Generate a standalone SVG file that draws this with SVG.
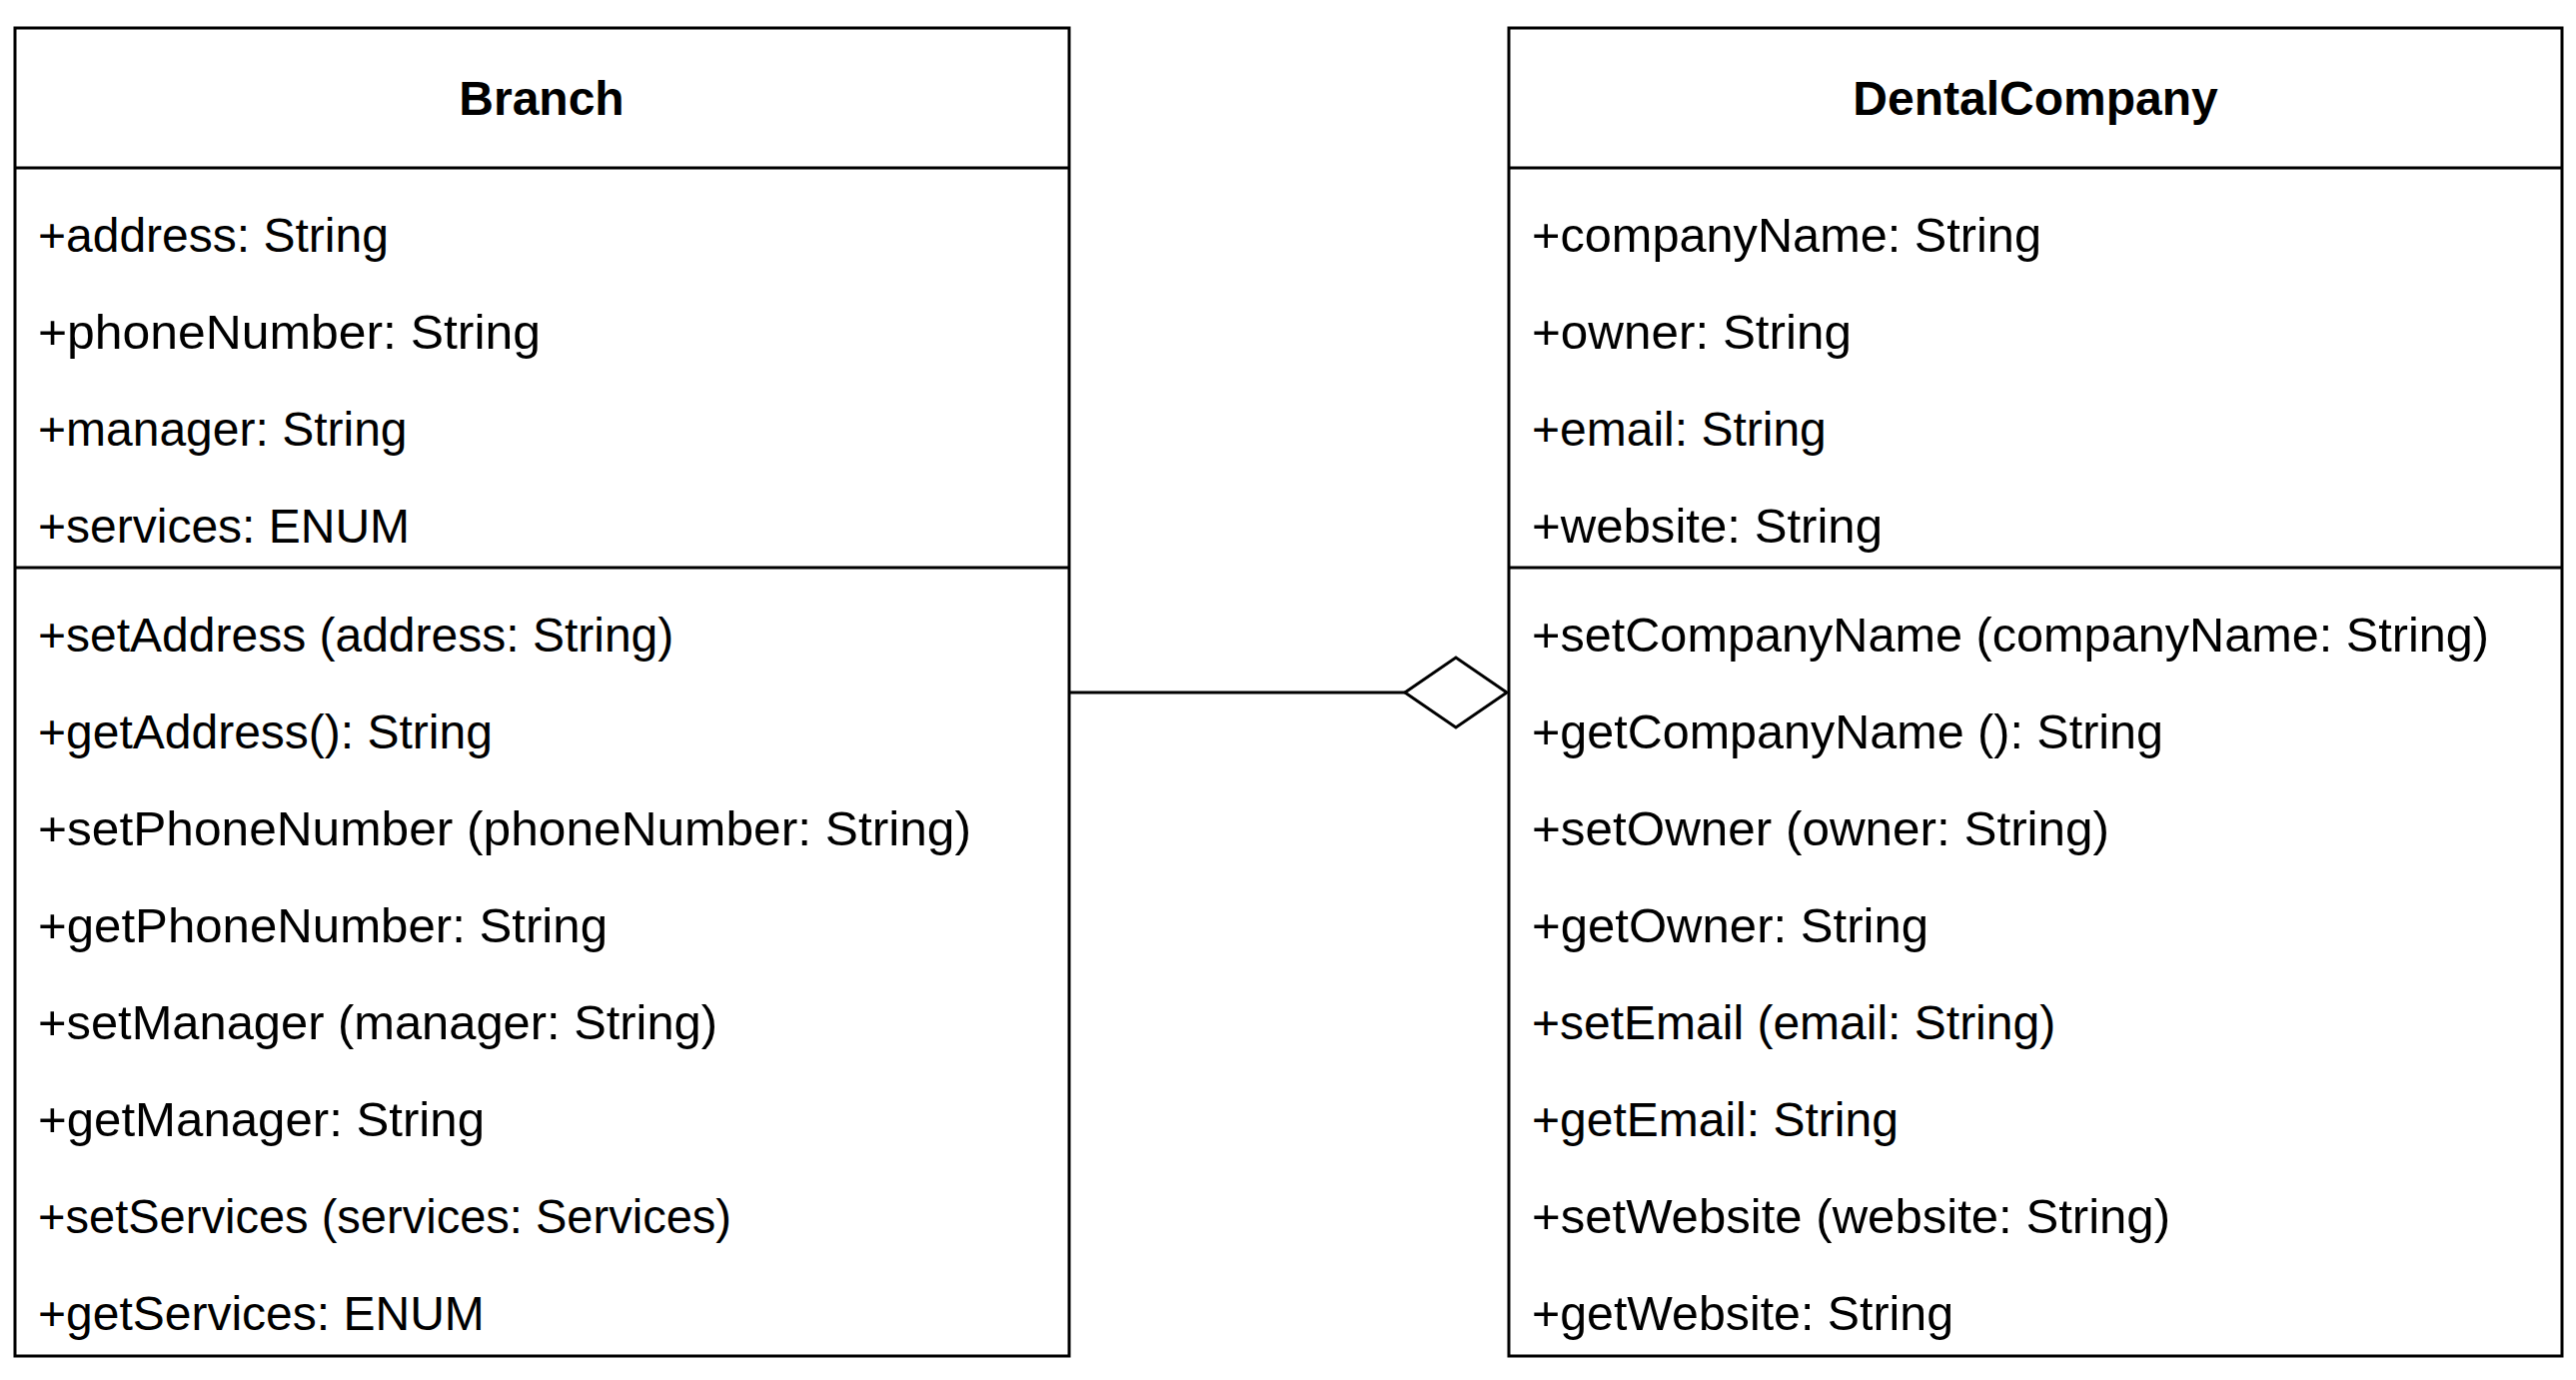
<svg xmlns="http://www.w3.org/2000/svg" width="2578" height="1381" viewBox="0 0 2578 1381">
<style>
.box{fill:#fff;stroke:#000;stroke-width:3}
.sep{stroke:#000;stroke-width:3}
.t{font-family:"Liberation Sans",Arial,sans-serif;font-size:48px;fill:#000}
.title{font-family:"Liberation Sans",Arial,sans-serif;font-size:48px;font-weight:bold;fill:#000;text-anchor:middle}
.conn{stroke:#000;stroke-width:3;fill:none}
.dia{fill:#fff;stroke:#000;stroke-width:3}
</style>
<rect width="2578" height="1381" fill="#fff"/>
<g id="Branch">
<rect class="box" x="15" y="28" width="1055" height="1329"/>
<line class="sep" x1="15" y1="168" x2="1070" y2="168"/>
<line class="sep" x1="15" y1="568" x2="1070" y2="568"/>
<text class="title" x="542" y="115">Branch</text>
<text class="t" x="38" y="252">+address: String</text>
<text class="t" x="38" y="349" textLength="503" lengthAdjust="spacingAndGlyphs">+phoneNumber: String</text>
<text class="t" x="38" y="446">+manager: String</text>
<text class="t" x="38" y="543">+services: ENUM</text>
<text class="t" x="38" y="652">+setAddress (address: String)</text>
<text class="t" x="38" y="749">+getAddress(): String</text>
<text class="t" x="38" y="846" textLength="934" lengthAdjust="spacingAndGlyphs">+setPhoneNumber (phoneNumber: String)</text>
<text class="t" x="38" y="943" textLength="570" lengthAdjust="spacingAndGlyphs">+getPhoneNumber: String</text>
<text class="t" x="38" y="1040" textLength="680" lengthAdjust="spacingAndGlyphs">+setManager (manager: String)</text>
<text class="t" x="38" y="1137" textLength="447" lengthAdjust="spacingAndGlyphs">+getManager: String</text>
<text class="t" x="38" y="1234" textLength="694" lengthAdjust="spacingAndGlyphs">+setServices (services: Services)</text>
<text class="t" x="38" y="1331">+getServices: ENUM</text>
</g>
<g id="DentalCompany">
<rect class="box" x="1510" y="28" width="1054" height="1329"/>
<line class="sep" x1="1510" y1="168" x2="2564" y2="168"/>
<line class="sep" x1="1510" y1="568" x2="2564" y2="568"/>
<text class="title" x="2037" y="115">DentalCompany</text>
<text class="t" x="1533" y="252" textLength="510" lengthAdjust="spacingAndGlyphs">+companyName: String</text>
<text class="t" x="1533" y="349" textLength="320" lengthAdjust="spacingAndGlyphs">+owner: String</text>
<text class="t" x="1533" y="446">+email: String</text>
<text class="t" x="1533" y="543" textLength="351" lengthAdjust="spacingAndGlyphs">+website: String</text>
<text class="t" x="1533" y="652" textLength="958" lengthAdjust="spacingAndGlyphs">+setCompanyName (companyName: String)</text>
<text class="t" x="1533" y="749" textLength="632" lengthAdjust="spacingAndGlyphs">+getCompanyName (): String</text>
<text class="t" x="1533" y="846" textLength="578" lengthAdjust="spacingAndGlyphs">+setOwner (owner: String)</text>
<text class="t" x="1533" y="943" textLength="397" lengthAdjust="spacingAndGlyphs">+getOwner: String</text>
<text class="t" x="1533" y="1040">+setEmail (email: String)</text>
<text class="t" x="1533" y="1137">+getEmail: String</text>
<text class="t" x="1533" y="1234" textLength="639" lengthAdjust="spacingAndGlyphs">+setWebsite (website: String)</text>
<text class="t" x="1533" y="1331" textLength="422" lengthAdjust="spacingAndGlyphs">+getWebsite: String</text>
</g>
<g id="connectors">
<line class="conn" x1="1070" y1="693" x2="1406" y2="693"/>
<polygon class="dia" points="1406,693 1457,658 1508,693 1457,728"/>
</g>
</svg>
